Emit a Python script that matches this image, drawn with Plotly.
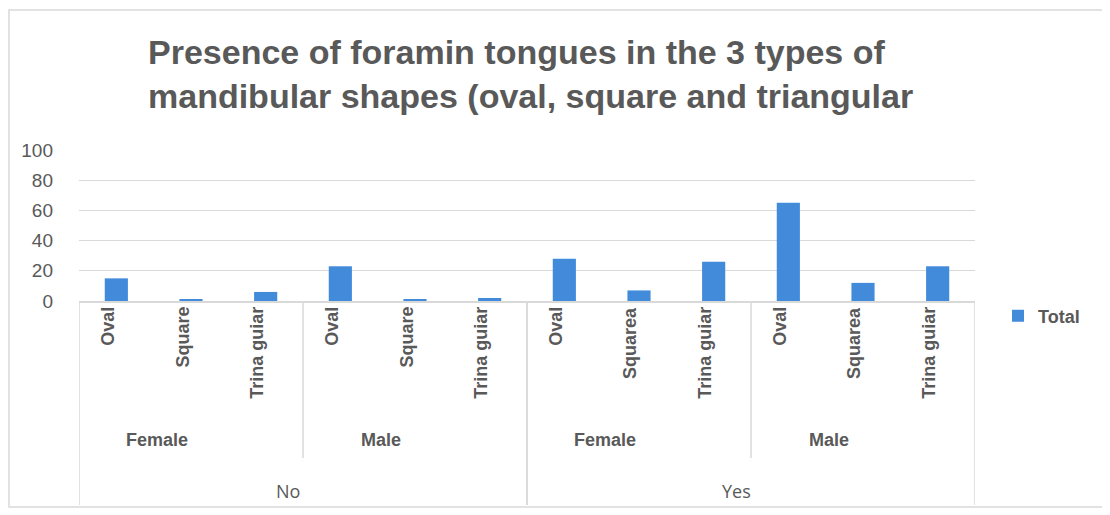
import plotly.graph_objects as go

# ---- data ----
answer = ["No", "No", "No", "No", "No", "No", "Yes", "Yes", "Yes", "Yes", "Yes", "Yes"]
sex = ["Female", "Female", "Female", "Male", "Male", "Male",
       "Female", "Female", "Female", "Male", "Male", "Male"]
shape = ["Oval", "Square", "Trina guiar", "Oval", "Square", "Trina guiar",
         "Oval", "Squarea", "Trina guiar", "Oval", "Squarea", "Trina guiar"]
total = [15, 1, 6, 23, 1, 2, 28, 7, 26, 65, 12, 23]
y_ticks = [0, 20, 40, 60, 80, 100]

TITLE = "Presence of foramin tongues in the 3 types of<br>mandibular shapes (oval, square and triangular"

GRAY = "#595959"
BLUE = "#428BDA"
LINE = "#d9d9d9"
FONT = "Liberation Sans"

idx = list(range(len(total)))

# page has an 8px body margin; work in reference pixel coords and subtract it
OFF = 8
W, H = 1110 - OFF, 515 - OFF
L = 79 - OFF
R = W - (975 - OFF)
T = 150 - OFF
B = H - (301 - OFF)
plot_h = H - T - B
plot_w = W - L - R


def py(pix):
    """reference pixel y -> paper y"""
    return (H - B - (pix - OFF)) / plot_h


def px(pix):
    """reference pixel x -> paper x"""
    return (pix - OFF - L) / plot_w


fig = go.Figure()
fig.add_trace(go.Bar(x=idx, y=total, name="Total", marker=dict(color=BLUE, line=dict(width=0)),
                     width=0.31))

annotations = []
shapes = []

# title as an annotation (two lines)
annotations.append(dict(x=px(146), y=py(31), xref="paper", yref="paper", text=TITLE,
                        showarrow=False, xanchor="left", yanchor="top", align="left",
                        font=dict(family=FONT, size=34, color=GRAY, weight="bold")))

# level 1 labels (shape)
for i, s in enumerate(shape):
    annotations.append(dict(x=i, y=0, xref="x", yref="paper", text=s, showarrow=False,
                            textangle=-90, xanchor="center", yanchor="top", yshift=-4, xshift=-9,
                            font=dict(family=FONT, size=18, color=GRAY, weight="bold")))


def groups(keys):
    out = []
    start = 0
    for i in range(1, len(keys) + 1):
        if i == len(keys) or keys[i] != keys[start]:
            out.append((keys[start], start, i - 1))
            start = i
    return out


lvl2_keys = [a + "|" + s for a, s in zip(answer, sex)]
for key, s, e in groups(lvl2_keys):
    label = key.split("|")[1]
    c = (s + e) / 2
    annotations.append(dict(x=c - 0.45, y=py(440), xref="x", yref="paper", text=label,
                            showarrow=False, xanchor="center", yanchor="middle",
                            font=dict(family=FONT, size=18, color=GRAY, weight="bold")))
    if e < len(total) - 1 and answer[e] == answer[e + 1]:
        shapes.append(dict(type="line", xref="x", yref="paper", x0=e + 0.5, x1=e + 0.5,
                           y0=py(301), y1=py(458), line=dict(color=LINE, width=1.5)))

for key, s, e in groups(answer):
    c = (s + e) / 2
    annotations.append(dict(x=c - 0.2, y=py(491), xref="x", yref="paper", text=key,
                            showarrow=False, xanchor="center", yanchor="middle",
                            font=dict(family="Open Sans", size=18, color=GRAY)))
    for xb in (s - 0.5, e + 0.5):
        shapes.append(dict(type="line", xref="x", yref="paper", x0=xb, x1=xb,
                           y0=py(301), y1=py(505), line=dict(color=LINE, width=1.5)))

# outer frame
shapes.append(dict(type="rect", xref="paper", yref="paper",
                   x0=px(9), x1=px(1105), y0=py(507), y1=py(10),
                   line=dict(color=LINE, width=1.5), layer="below"))

fig.update_layout(
    width=W, height=H,
    margin=dict(l=L, r=R, t=T, b=B, pad=0),
    paper_bgcolor="white", plot_bgcolor="white",
    xaxis=dict(range=[-0.5, len(total) - 0.5], showticklabels=False, showgrid=False,
               zeroline=False, showline=True, linecolor=LINE, linewidth=1.5, fixedrange=True),
    yaxis=dict(range=[0, 100], tickvals=y_ticks, showgrid=True, gridcolor=LINE, gridwidth=1,
               zeroline=False, showline=False, ticklabelstandoff=25,
               tickfont=dict(family=FONT, size=19, color=GRAY)),
    showlegend=True,
    legend=dict(x=px(998), y=py(316), xanchor="left", yanchor="middle",
                font=dict(family=FONT, size=18, color=GRAY, weight="bold"),
                itemwidth=30, bgcolor="rgba(0,0,0,0)"),
    annotations=annotations,
    shapes=shapes,
    bargap=0.69,
)

fig.write_html("out.html")
